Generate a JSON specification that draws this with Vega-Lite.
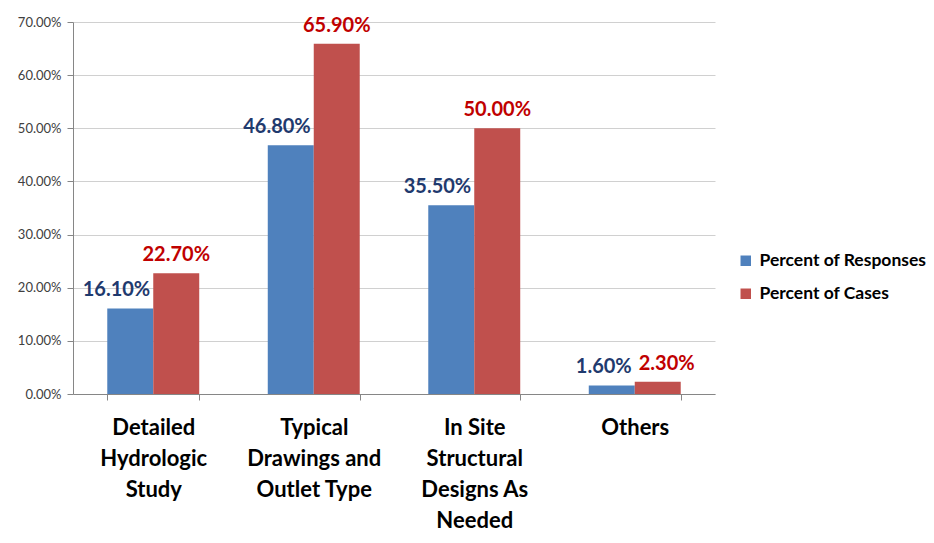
{
  "$schema": "https://vega.github.io/schema/vega-lite/v6.json",
  "width": 642,
  "height": 372,
  "autosize": {"type": "none"},
  "padding": {"left": 73, "top": 22, "right": 219, "bottom": 149},
  "background": "white",
  "config": {"font": "Lato", "view": {"stroke": null}},
  "data": {
    "values": [
      {"category": "Detailed\nHydrologic\nStudy", "series": "Percent of Responses", "value": 0.161},
      {"category": "Detailed\nHydrologic\nStudy", "series": "Percent of Cases", "value": 0.227},
      {"category": "Typical\nDrawings and\nOutlet Type", "series": "Percent of Responses", "value": 0.468},
      {"category": "Typical\nDrawings and\nOutlet Type", "series": "Percent of Cases", "value": 0.659},
      {"category": "In Site\nStructural\nDesigns As\nNeeded", "series": "Percent of Responses", "value": 0.355},
      {"category": "In Site\nStructural\nDesigns As\nNeeded", "series": "Percent of Cases", "value": 0.5},
      {"category": "Others", "series": "Percent of Responses", "value": 0.016},
      {"category": "Others", "series": "Percent of Cases", "value": 0.023}
    ]
  },
  "encoding": {
    "x": {
      "field": "category",
      "type": "nominal",
      "sort": null,
      "scale": {"paddingInner": 0.427, "paddingOuter": 0.2135},
      "axis": {
        "title": null,
        "labelAngle": 0,
        "labelExpr": "split(datum.label, '\\n')",
        "labelFontSize": 22,
        "labelFontWeight": "bold",
        "labelColor": "#000000",
        "labelLineHeight": 31,
        "labelPadding": 17,
        "labelBaseline": "top",
        "tickBand": "extent",
        "tickColor": "#868686",
        "tickSize": 6,
        "domainColor": "#868686",
        "grid": false
      }
    },
    "xOffset": {"field": "series", "type": "nominal", "sort": ["Percent of Responses", "Percent of Cases"]},
    "y": {
      "field": "value",
      "type": "quantitative",
      "scale": {"domain": [0, 0.7], "nice": false},
      "axis": {
        "title": null,
        "format": ".2%",
        "values": [0, 0.1, 0.2, 0.3, 0.4, 0.5, 0.6, 0.7],
        "labelFontSize": 13,
        "labelColor": "#404040",
        "labelPadding": 6,
        "tickColor": "#868686",
        "tickSize": 6,
        "domainColor": "#868686",
        "gridColor": "#D0D0D0"
      }
    }
  },
  "layer": [
    {
      "mark": {"type": "bar"},
      "encoding": {
        "color": {
          "field": "series",
          "type": "nominal",
          "sort": ["Percent of Responses", "Percent of Cases"],
          "scale": {"domain": ["Percent of Responses", "Percent of Cases"], "range": ["#4F81BD", "#C0504D"]},
          "legend": {
            "title": null,
            "orient": "none",
            "legendX": 664,
            "legendY": 230,
            "symbolType": "square",
            "symbolSize": 110,
            "symbolStrokeWidth": 0,
            "labelFontSize": 17.5,
            "labelFontWeight": "bold",
            "labelColor": "#000000",
            "labelLimit": 300,
            "rowPadding": 14,
            "labelOffset": 5
          }
        }
      }
    },
    {
      "transform": [{"filter": "datum.series === 'Percent of Responses'"}],
      "mark": {"type": "text", "baseline": "alphabetic", "align": "right", "dx": 20, "dy": -12, "fontSize": 20, "fontWeight": "bold", "color": "#1F3A6E"},
      "encoding": {
        "text": {"field": "value", "type": "quantitative", "format": ".2%"}
      }
    },
    {
      "transform": [{"filter": "datum.series === 'Percent of Cases' && datum.category !== 'Others'"}],
      "mark": {"type": "text", "baseline": "alphabetic", "align": "center", "dy": -12, "fontSize": 20, "fontWeight": "bold", "color": "#C00000"},
      "encoding": {
        "text": {"field": "value", "type": "quantitative", "format": ".2%"}
      }
    },
    {
      "transform": [{"filter": "datum.series === 'Percent of Cases' && datum.category === 'Others'"}],
      "mark": {"type": "text", "baseline": "alphabetic", "align": "left", "dx": -19, "dy": -12, "fontSize": 20, "fontWeight": "bold", "color": "#C00000"},
      "encoding": {
        "text": {"field": "value", "type": "quantitative", "format": ".2%"}
      }
    }
  ]
}
